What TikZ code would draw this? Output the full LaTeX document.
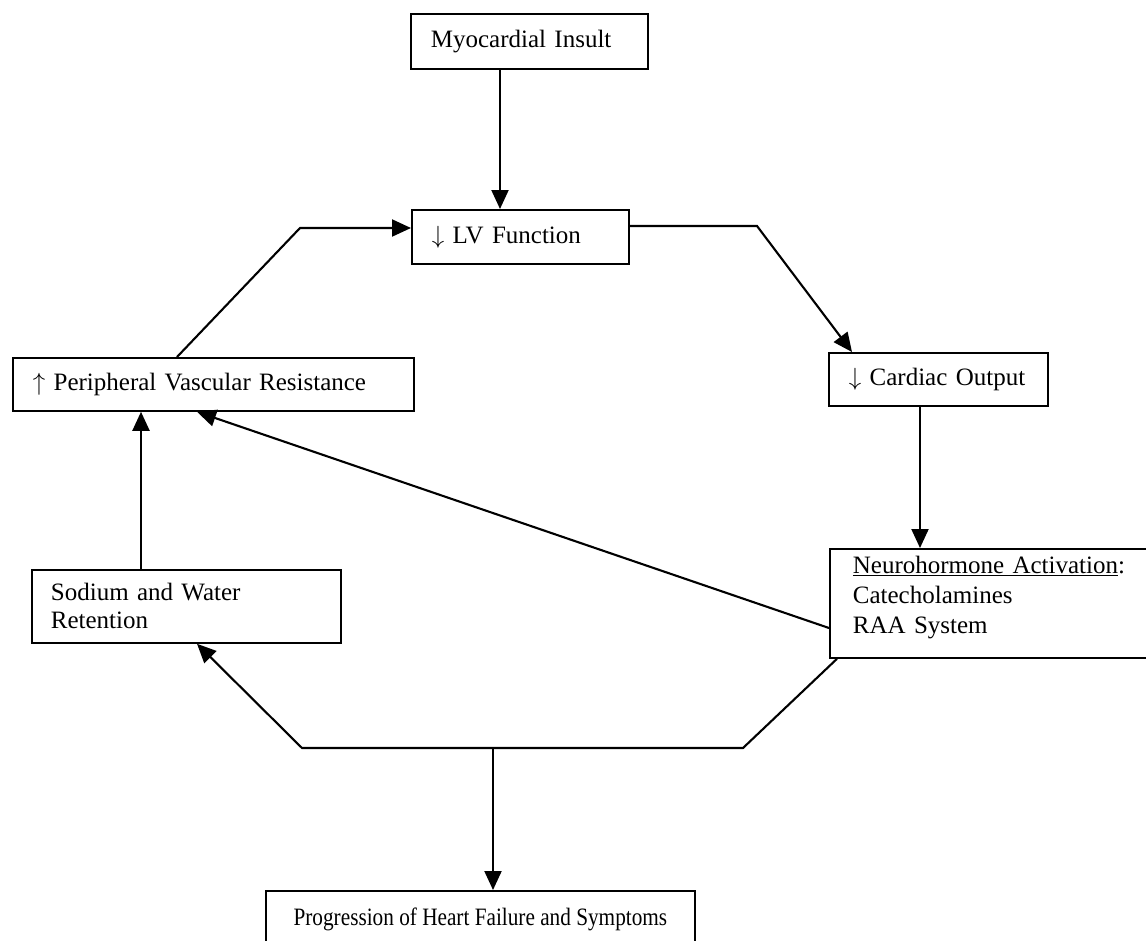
\documentclass[tikz,border=0pt]{standalone}
\usepackage{fontspec}
\usepackage{graphicx}
\setmainfont{Liberation Serif}
\usetikzlibrary{arrows.meta}
\newcommand{\dnarr}{\ensuremath{\downarrow}}
\newcommand{\uparr}{\ensuremath{\uparrow}}
\begin{document}
\begin{tikzpicture}[x=1pt,y=-1pt,
  box/.style={draw, line width=1.8pt, inner xsep=20pt, inner ysep=0pt,
    anchor=north west, align=left,
    font=\fontsize{25}{29}\selectfont},
  conn/.style={line width=2.1pt},
  arr/.style={conn, -{Triangle[length=19pt,width=17pt]}}]
\useasboundingbox (0,0) rectangle (1146,940);
\clip (0,0) rectangle (1146,940);
\fill[white] (0,0) rectangle (1146,940);

\node[box, text width=197pt, minimum height=55pt] (mi) at (410,13) {Myocardial Insult};
\node[box, text width=177pt, minimum height=54pt] (lv) at (411,209) {\dnarr\ LV Function};
\node[box, text width=361pt, minimum height=53pt] (pvr) at (12,357) {\uparr\ Peripheral Vascular Resistance};
\node[box, text width=179pt, minimum height=53pt] (co) at (828,352) {\dnarr\ Cardiac Output};
\node[box, inner xsep=23pt, text width=294pt, minimum height=109pt,
      font=\fontsize{25}{30}\selectfont] (neuro) at (829,548)
  {\underline{Neurohormone Activation}:\\Catecholamines\\RAA System\rule[-18pt]{0pt}{0pt}};
\node[box, inner xsep=19pt, text width=271pt, minimum height=73pt,
      font=\fontsize{25}{28}\selectfont] (sod) at (31,569) {Sodium and Water\\Retention};
\node[box, align=center, inner xsep=0pt, minimum width=429pt, minimum height=56pt] (prog) at (265,890)
  {\scalebox{0.85}[1]{Progression of Heart Failure and Symptoms}};

\coordinate (xA) at (500,0);
\coordinate (xL) at (177,0);
\coordinate (bendL) at (300,228);
\coordinate (bendR) at (757,226);
\coordinate (xC) at (852,0);
\coordinate (xN) at (920,0);
\coordinate (xS) at (141,0);
\coordinate (xP) at (197,0);
\coordinate (yN) at (0,628);
\coordinate (xB) at (837,0);
\coordinate (botR) at (743,748);
\coordinate (botL) at (302,748);
\coordinate (xD) at (493,0);

\draw[arr] (mi.south -| xA) -- (lv.north -| xA);
\draw[arr] (pvr.north -| xL) -- (bendL) -- (bendL -| lv.west);
\draw[arr] (lv.east |- bendR) -- (bendR) -- (co.north -| xC);
\draw[arr] (co.south -| xN) -- (neuro.north -| xN);
\draw[arr] (sod.north -| xS) -- (pvr.south -| xS);
\draw[arr] (neuro.west |- yN) -- (pvr.south -| xP);
\draw[arr] (neuro.south -| xB) -- (botR) -- (botL) -- (sod.south -| xP);
\draw[arr] (botL -| xD) -- (prog.north -| xD);
\end{tikzpicture}
\end{document}
